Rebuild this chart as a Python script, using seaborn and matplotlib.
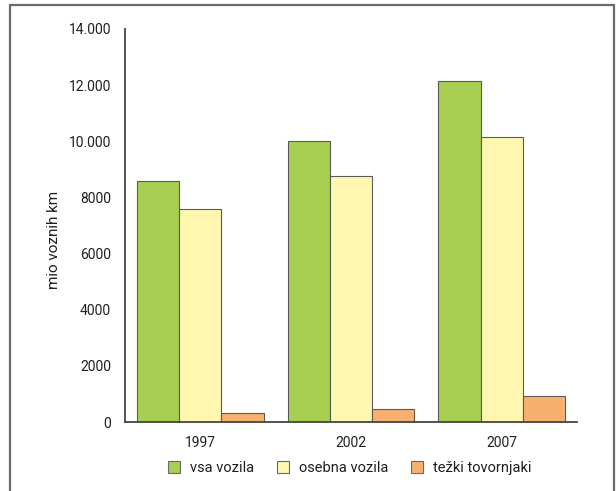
import matplotlib
matplotlib.use("Agg")
import matplotlib.pyplot as plt
from matplotlib.patches import Patch
import pandas as pd
import seaborn as sns

# Vehicle kilometres travelled (millions) by vehicle group
years = ["1997", "2002", "2007"]
series_names = ["vsa vozila", "osebna vozila", "težki tovornjaki"]
vsa_vozila = [8600, 10000, 12140]
osebna_vozila = [7570, 8780, 10150]
tezki_tovornjaki = [310, 450, 940]
series_colors = ["#a8cf51", "#fff6b0", "#f9b06f"]

y_ticks = [0, 2000, 4000, 6000, 8000, 10000, 12000, 14000]
y_tick_labels = ["0", "2000", "4000", "6000", "8000", "10.000", "12.000", "14.000"]
y_label = "mio voznih km"

df = pd.DataFrame({
    "leto": years * 3,
    "skupina": [series_names[0]] * 3 + [series_names[1]] * 3 + [series_names[2]] * 3,
    "km": vsa_vozila + osebna_vozila + tezki_tovornjaki,
})

sns.set_style("white")
plt.rcParams["font.family"] = ["Roboto", "DejaVu Sans"]

text_color = "#231f20"
line_color = "#444444"

fig = plt.figure(figsize=(6.16, 4.91), dpi=100)
ax = fig.add_axes([125 / 616, 1 - 422 / 491, (577 - 125) / 616, (422 - 29) / 491])

sns.barplot(
    data=df, x="leto", y="km", hue="skupina",
    order=years, hue_order=series_names,
    palette=series_colors, saturation=1, width=0.84,
    edgecolor="#5a5a5a", linewidth=0.8,
    legend=False, ax=ax,
)

ax.set_ylim(0, 14000)
ax.set_xlim(-0.5, 2.5)
ax.set_yticks(y_ticks)
ax.set_yticklabels(y_tick_labels)
ax.set_xlabel("")
ax.set_ylabel(y_label, fontsize=11, color=text_color)
ax.yaxis.set_label_coords(-0.142, 0.463)

# category boundary ticks on the x axis, labels centred under each group
ax.set_xticks([-0.5, 0.5, 1.5, 2.5], minor=True)
ax.set_xticks([0, 1, 2])
ax.set_xticklabels(years)
ax.tick_params(axis="x", which="major", length=0, pad=10, labelsize=10, labelcolor=text_color)
ax.tick_params(axis="x", which="minor", length=5, width=1.1, color=line_color, direction="out")
ax.tick_params(axis="y", length=5, width=1.1, color=line_color, direction="out",
               pad=5, labelsize=10, labelcolor=text_color)

for side in ("top", "right"):
    ax.spines[side].set_visible(False)
for side in ("left", "bottom"):
    ax.spines[side].set_color(line_color)
    ax.spines[side].set_linewidth(1.3)

handles = [Patch(facecolor=c, edgecolor="#6a6a6a", linewidth=0.8) for c in series_colors]
fig.legend(handles, series_names, loc="center", ncol=3, frameon=False,
           bbox_to_anchor=(350 / 616, 1 - 468 / 491), fontsize=10.5,
           handlelength=0.82, handleheight=0.82, handletextpad=0.68, columnspacing=1.57,
           labelcolor=text_color)

# outer frame (left, top, right)
frame_kw = dict(color="#6b6b6b", linewidth=1.6, transform=fig.transFigure, clip_on=False)
fig.add_artist(plt.Line2D([10 / 616, 10 / 616], [0, 1 - 5 / 491], **frame_kw))
fig.add_artist(plt.Line2D([10 / 616, 614 / 616], [1 - 5 / 491, 1 - 5 / 491], **frame_kw))
fig.add_artist(plt.Line2D([614 / 616, 614 / 616], [1 - 5 / 491, 0], **frame_kw))

fig.savefig("out.png", dpi=100)
